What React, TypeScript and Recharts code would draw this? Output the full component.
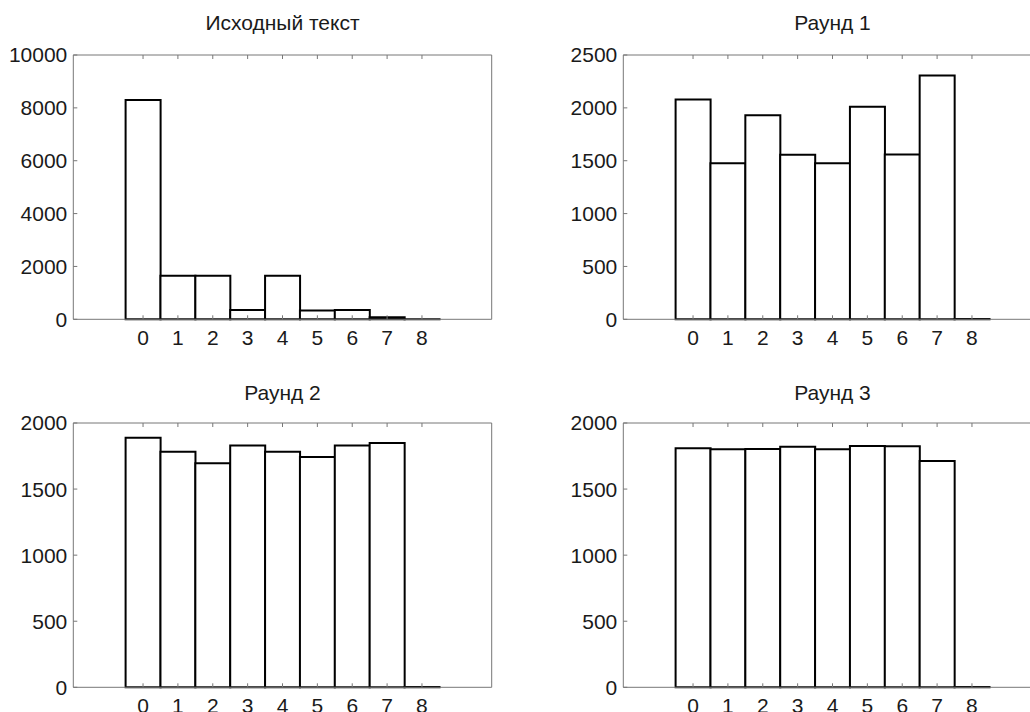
import React from 'react';
import { BarChart, Bar, XAxis, YAxis } from 'recharts';

const bins = [0, 1, 2, 3, 4, 5, 6, 7, 8];
const xTicks = [0, 1, 2, 3, 4, 5, 6, 7, 8];

const originalCounts = [8300, 1650, 1650, 350, 1650, 330, 350, 75, 3];
const round1Counts = [2080, 1475, 1930, 1557, 1475, 2010, 1560, 2305, 2];
const round2Counts = [1889, 1783, 1695, 1829, 1783, 1743, 1829, 1849, 2];
const round3Counts = [1809, 1801, 1804, 1821, 1801, 1826, 1824, 1713, 2];

const titles = ['Исходный текст', 'Раунд 1', 'Раунд 2', 'Раунд 3'];

const yTicksOriginal = [0, 2000, 4000, 6000, 8000, 10000];
const yTicksRound1 = [0, 500, 1000, 1500, 2000, 2500];
const yTicksRound23 = [0, 500, 1000, 1500, 2000];

const FONT = '"Liberation Sans", Arial, Helvetica, sans-serif';
const AXIS = '#777';
const TEXT = '#1a1a1a';
const FS = 21;

const W = 500;
const H = 360;
const MARGIN = { top: 54, right: 7.3, bottom: 10.7, left: 13.3 };

type PanelProps = {
  counts: number[];
  yTicks: number[];
  title: string;
  left: number;
  top: number;
  titleTop: number;
};

function Panel({ counts, yTicks, title, left, top, titleTop }: PanelProps) {
  const data = bins.map((b, i) => ({ bin: b, count: counts[i] }));
  const yMax = yTicks[yTicks.length - 1];
  return (
    <>
      <div
        style={{
          position: 'absolute',
          left: left + 73.3,
          top: titleTop,
          width: 418.4,
          textAlign: 'center',
          fontFamily: FONT,
          fontSize: FS,
          lineHeight: `${FS}px`,
          color: TEXT,
          whiteSpace: 'nowrap',
        }}
      >
        {title}
      </div>
      <div style={{ position: 'absolute', left, top, width: W, height: H }}>
        <BarChart width={W} height={H} data={data} margin={MARGIN} barCategoryGap={0} barGap={0}>
          <XAxis
            xAxisId="bottom"
            dataKey="bin"
            type="number"
            domain={[-2, 10]}
            ticks={xTicks}
            interval={0}
            height={30}
            stroke={AXIS}
            tickSize={-4}
            tickMargin={15}
            tick={{ fill: TEXT, fontSize: FS, fontFamily: FONT }}
          />
          <XAxis
            xAxisId="top"
            orientation="top"
            dataKey="bin"
            type="number"
            domain={[-2, 10]}
            ticks={xTicks}
            interval={0}
            height={1}
            stroke={AXIS}
            tickSize={-4}
            tickFormatter={() => ''}
          />
          <YAxis
            yAxisId="left"
            type="number"
            domain={[0, yMax]}
            ticks={yTicks}
            interval={0}
            width={60}
            stroke={AXIS}
            tickSize={-4}
            tickMargin={10}
            tick={{ fill: TEXT, fontSize: FS, fontFamily: FONT }}
          />
          <YAxis
            yAxisId="right"
            orientation="right"
            type="number"
            domain={[0, yMax]}
            ticks={yTicks}
            interval={0}
            width={1}
            stroke={AXIS}
            tickSize={-4}
            tickFormatter={() => ''}
          />
          <Bar
            xAxisId="bottom"
            yAxisId="left"
            dataKey="count"
            fill="#ffffff"
            stroke="#000000"
            strokeWidth={2}
            isAnimationActive={false}
          />
        </BarChart>
      </div>
    </>
  );
}

export default function App() {
  return (
    <div
      style={{
        position: 'absolute',
        left: 0,
        top: 0,
        width: 1030,
        height: 712,
        overflow: 'hidden',
        background: '#ffffff',
      }}
    >
      <Panel counts={originalCounts} yTicks={yTicksOriginal} title={titles[0]} left={0} top={0} titleTop={12.2} />
      <Panel counts={round1Counts} yTicks={yTicksRound1} title={titles[1]} left={550} top={0} titleTop={12.2} />
      <Panel counts={round2Counts} yTicks={yTicksRound23} title={titles[2]} left={0} top={367.7} titleTop={381.6} />
      <Panel counts={round3Counts} yTicks={yTicksRound23} title={titles[3]} left={550} top={367.7} titleTop={381.6} />
    </div>
  );
}
